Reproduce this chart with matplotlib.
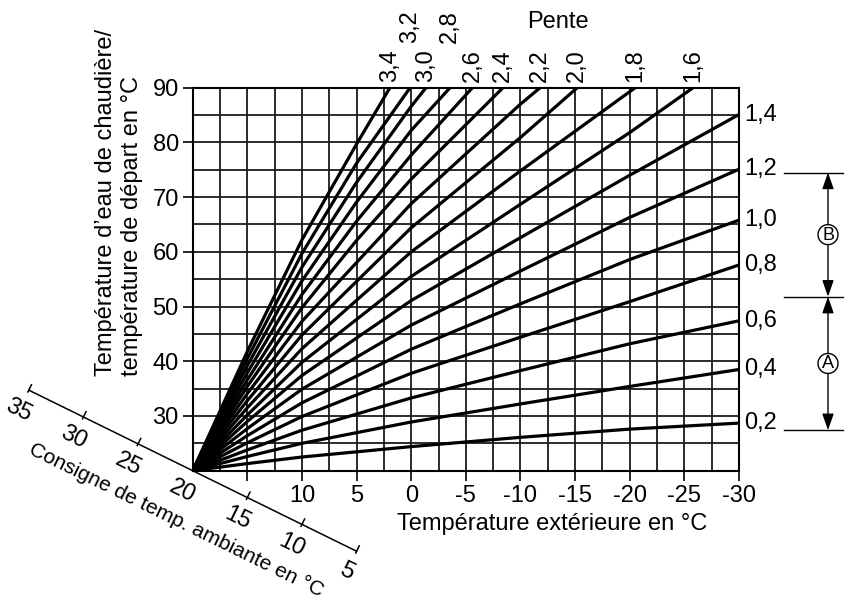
import numpy as np
import matplotlib
matplotlib.use('Agg')
import matplotlib.pyplot as plt
from matplotlib.patches import Circle

plt.rcParams['font.family'] = ['Liberation Sans', 'DejaVu Sans']

# ─────────────────────────────────────────────────────────────
# Données
# ─────────────────────────────────────────────────────────────
pentes = [0.2, 0.4, 0.6, 0.8, 1.0, 1.2, 1.4, 1.6, 1.8, 2.0,
          2.2, 2.4, 2.6, 2.8, 3.0, 3.2, 3.4]

# température extérieure (°C) / température de départ (°C) par courbe
courbes_x = [
    [20, 15, 10, 0, -10, -20, -30],
    [20, 15, 10, 0, -10, -20, -30],
    [20, 15, 10, 0, -10, -20, -30],
    [20, 15, 10, 0, -10, -20, -30],
    [20, 15, 10, 0, -10, -20, -30],
    [20, 15, 10, 0, -10, -20, -30],
    [20, 15, 10, 0, -10, -20, -30],
    [20, 15, 10, 0, -10, -20, -25.8],
    [20, 15, 10, 0, -10, -20.5],
    [20, 15, 10, 0, -10, -15.2],
    [20, 15, 10, 0, -10, -11.8],
    [20, 15, 10, 5, 0, -8.4],
    [20, 15, 10, 5, 0, -5.6],
    [20, 15, 10, 5, 0, -3.55],
    [20, 15, 10, 5, 0, -1.35],
    [20, 15, 10, 5, 0.1],
    [20, 15, 10, 5, 1.95],
]
courbes_y = [
    [20, 21.3, 22.5, 24.4, 26.1, 27.6, 28.7],
    [20, 22.6, 25.0, 28.9, 32.2, 35.4, 38.5],
    [20, 23.8, 27.4, 33.3, 38.3, 43.2, 47.4],
    [20, 25.1, 29.9, 37.8, 44.4, 50.9, 57.6],
    [20, 26.4, 32.4, 42.2, 50.5, 58.6, 65.8],
    [20, 27.7, 34.9, 46.6, 56.5, 66.3, 75.1],
    [20, 29.0, 37.4, 51.1, 62.6, 74.0, 85.1],
    [20, 30.2, 39.8, 55.5, 68.7, 81.8, 90],
    [20, 31.5, 42.3, 60.0, 74.8, 90],
    [20, 32.8, 44.8, 64.4, 80.9, 90],
    [20, 34.1, 47.3, 68.8, 87.0, 90],
    [20, 35.4, 49.8, 62.1, 73.3, 90],
    [20, 36.6, 52.2, 65.6, 77.7, 90],
    [20, 37.9, 54.7, 69.1, 82.2, 90],
    [20, 39.2, 57.2, 72.7, 86.6, 90],
    [20, 40.5, 59.7, 76.2, 90],
    [20, 41.8, 62.2, 79.7, 90],
]

x_ticks = [15, 10, 5, 0, -5, -10, -15, -20, -25, -30]
x_labels = ['', '10', '5', '0', '-5', '-10', '-15', '-20', '-25', '-30']
y_ticks = [30, 40, 50, 60, 70, 80, 90]

consigne_ticks = [35, 30, 25, 20, 15, 10, 5]
pentes_hautes = [3.2, 2.8]          # étiquettes décalées vers le haut

# plages A / B (température de départ aux traits de repère)
plage_limites = [74.5, 51.8, 27.4]
plage_noms = ['B', 'A']

FS = 17


def fmt(p):
    return f'{p:.1f}'.replace('.', ',')


W, H = 851, 601
fig = plt.figure(figsize=(W / 100, H / 100), dpi=100, facecolor='white')

x0, x1, y0, y1 = 192.7, 739.0, 87.7, 470.7
ax = fig.add_axes([x0 / W, 1 - y1 / H, (x1 - x0) / W, (y1 - y0) / H])
ax.set_xlim(20, -30)
ax.set_ylim(20, 90)

for gx in np.arange(20, -30.1, -2.5):
    ax.axvline(gx, color='#1a1a1a', lw=1.3, zorder=1)
for gy in np.arange(20, 90.1, 5):
    ax.axhline(gy, color='#1a1a1a', lw=1.3, zorder=1)

for xs, ys in zip(courbes_x, courbes_y):
    ax.plot(xs, ys, color='black', lw=2.3, solid_capstyle='butt',
            solid_joinstyle='round', zorder=3, clip_on=True)

for s in ax.spines.values():
    s.set_linewidth(1.5)
    s.set_color('black')

ax.set_xticks(x_ticks)
ax.set_xticklabels(x_labels)
ax.set_yticks(y_ticks)
ax.tick_params(direction='out', length=7, width=1.2, labelsize=FS,
               pad=3, colors='black')

# overlay en pixels
ov = fig.add_axes([0, 0, 1, 1], facecolor='none')
ov.set_xlim(0, W)
ov.set_ylim(H, 0)
ov.axis('off')


def to_px(x, y):
    disp = ax.transData.transform((x, y))
    return ov.transData.inverted().transform(disp)


ov.text(552, 524, 'Température extérieure en °C', ha='center', va='center',
        fontsize=FS)

# titre de l'axe vertical
ov.text(119, 376, 'Température d\u2019eau de chaudière/\ntempérature de départ en °C',
        rotation=90, ha='center', va='bottom', multialignment='left',
        fontsize=FS, linespacing=1.2)

# étiquettes des pentes
for p, xs, ys in zip(pentes, courbes_x, courbes_y):
    ex, ey = to_px(xs[-1], ys[-1])
    if ys[-1] >= 89.9:
        up = 45 if p in pentes_hautes else 6
        ov.text(ex, y0 - up, fmt(p), rotation=90, ha='center', va='bottom',
                fontsize=FS)
    else:
        ov.text(x1 + 5, ey, fmt(p), ha='left', va='center', fontsize=FS)

ov.text(558, 22, 'Pente', ha='center', va='center', fontsize=FS)

# axe oblique de la consigne de température ambiante
ux, uy = 546.3 / 50, 5.37
nrm = np.hypot(ux, uy)
dx, dy = ux / nrm, uy / nrm
px_, py_ = dy, -dx      # normale vers le haut
ang = -np.degrees(np.arctan2(uy, ux))


def cons_px(t):
    return x0 + (20 - t) * ux, y1 + (20 - t) * uy


a = cons_px(consigne_ticks[0])
b = cons_px(consigne_ticks[-1])
ov.plot([a[0], b[0]], [a[1], b[1]], color='black', lw=1.1)
for t in consigne_ticks:
    cx, cy = cons_px(t)
    if t != 20:
        ov.plot([cx - 2 * px_, cx + 6 * px_], [cy - 2 * py_, cy + 6 * py_],
                color='black', lw=1.1)
    ov.text(cx - 23 * px_, cy - 23 * py_, str(t), rotation=ang,
            rotation_mode='anchor', ha='center', va='center', fontsize=FS)
cx, cy = cons_px(20)
ov.text(cx + 6.7 * dx - 52 * px_, cy + 6.7 * dy - 52 * py_,
        'Consigne de temp. ambiante en °C', rotation=ang,
        rotation_mode='anchor', ha='center', va='center', fontsize=15)

# plages A / B
bx = 828
lims_px = [to_px(-30, v)[1] for v in plage_limites]
for yy in lims_px:
    ov.plot([784, 843], [yy, yy], color='black', lw=1.0)
for nom, ya, yb in zip(plage_noms, lims_px[:-1], lims_px[1:]):
    yc = (ya + yb) / 2
    r = 10
    ov.add_patch(Circle((bx, yc), r, fill=False, ec='black', lw=1.0))
    ov.text(bx, yc + 0.5, nom, ha='center', va='center', fontsize=13)
    for tgt, src in [(ya, yc - r), (yb, yc + r)]:
        ov.annotate('', xy=(bx, tgt), xytext=(bx, src),
                    arrowprops=dict(arrowstyle='-|>,head_length=1.0,head_width=0.35',
                                    color='black', lw=1.0, shrinkA=0, shrinkB=0,
                                    mutation_scale=10))

fig.savefig('out.png', dpi=100, facecolor='white')
